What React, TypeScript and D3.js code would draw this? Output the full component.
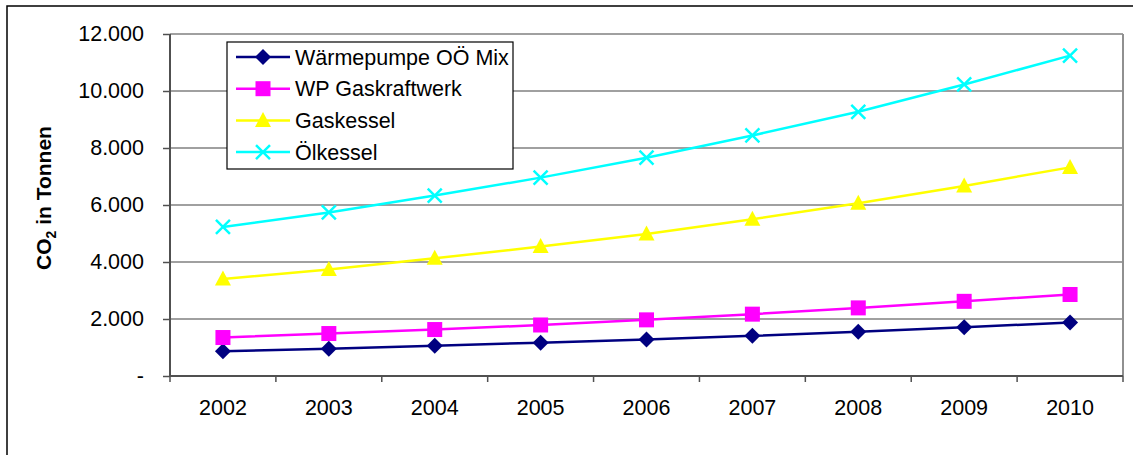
import React, { useRef, useEffect } from 'react';
import * as d3 from 'd3';

// years on the category axis
const years = ['2002', '2003', '2004', '2005', '2006', '2007', '2008', '2009', '2010'];

// CO2 in tonnes
const waermepumpeMix = [870, 960, 1060, 1170, 1280, 1410, 1550, 1710, 1880];
const wpGaskraftwerk = [1350, 1490, 1630, 1790, 1970, 2170, 2390, 2620, 2860];
const gaskessel = [3400, 3740, 4130, 4540, 4980, 5500, 6060, 6670, 7320];
const oelkessel = [5230, 5740, 6330, 6960, 7660, 8440, 9270, 10230, 11240];

const seriesNames = ['Wärmepumpe OÖ Mix', 'WP Gaskraftwerk', 'Gaskessel', 'Ölkessel'];
const yTicks = [0, 2000, 4000, 6000, 8000, 10000, 12000];

const W = 1133;
const H = 455;
const FONT = '"Liberation Sans", Arial, sans-serif';

const App = () => {
  const ref = useRef<SVGSVGElement>(null);

  useEffect(() => {
    const svg = d3.select(ref.current);
    svg.selectAll('*').remove();

    const left = 170, right = 1123, top = 34, bottom = 376;

    const series = [
      { name: seriesNames[0], values: waermepumpeMix, color: '#000080', marker: 'diamond' },
      { name: seriesNames[1], values: wpGaskraftwerk, color: '#FF00FF', marker: 'square' },
      { name: seriesNames[2], values: gaskessel, color: '#FFFF00', marker: 'triangle' },
      { name: seriesNames[3], values: oelkessel, color: '#00FFFF', marker: 'cross' },
    ];

    const x = d3.scaleBand().domain(years).range([left, right]);
    const y = d3.scaleLinear().domain([0, 12000]).range([bottom, top]);

    const de = d3.formatLocale({ decimal: ',', thousands: '.', grouping: [3], currency: ['', ' €'] });
    const fmt = (v: number) => (v === 0 ? '-' : de.format(',.0f')(v));

    // outer chart frame
    svg.append('rect')
      .attr('x', 7).attr('y', 6)
      .attr('width', W + 20).attr('height', H + 20)
      .attr('fill', '#fff').attr('stroke', '#000').attr('stroke-width', 1.5);

    // gridlines
    svg.append('g')
      .selectAll('line')
      .data(yTicks.filter(d => d > 0))
      .enter().append('line')
      .attr('x1', left).attr('x2', right)
      .attr('y1', d => y(d)).attr('y2', d => y(d))
      .attr('stroke', '#808080').attr('stroke-width', 1.5);

    // right border of plot area
    svg.append('line')
      .attr('x1', right).attr('x2', right).attr('y1', top).attr('y2', bottom)
      .attr('stroke', '#909090').attr('stroke-width', 2);

    // y axis
    const yAxis = svg.append('g')
      .attr('transform', `translate(${left},0)`)
      .call(d3.axisLeft(y).tickValues(yTicks).tickSize(7).tickPadding(19).tickFormat(d => fmt(+d)));
    yAxis.select('.domain').remove();
    yAxis.selectAll('line').attr('stroke', '#505050').attr('stroke-width', 1.5);
    yAxis.selectAll('text')
      .attr('font-family', FONT).attr('font-size', 21.5).attr('fill', '#000');

    // x axis labels (centered in categories)
    const xAxis = svg.append('g')
      .attr('transform', `translate(0,${bottom})`)
      .call(d3.axisBottom(x).tickSize(0).tickPadding(24));
    xAxis.select('.domain').remove();
    xAxis.selectAll('text')
      .attr('font-family', FONT).attr('font-size', 21.5).attr('fill', '#000');

    // x tick marks between categories
    const edges = years.map(d => x(d) as number).concat([right]);
    svg.append('g')
      .selectAll('line')
      .data(edges)
      .enter().append('line')
      .attr('x1', d => d).attr('x2', d => d)
      .attr('y1', bottom).attr('y2', bottom + 6)
      .attr('stroke', '#505050').attr('stroke-width', 1.5);

    // axis lines
    svg.append('line')
      .attr('x1', left).attr('x2', left).attr('y1', top).attr('y2', bottom)
      .attr('stroke', '#505050').attr('stroke-width', 2);
    svg.append('line')
      .attr('x1', left - 1).attr('x2', right).attr('y1', bottom).attr('y2', bottom)
      .attr('stroke', '#505050').attr('stroke-width', 2);

    // axis title
    const title = svg.append('text')
      .attr('transform', 'translate(51,198) rotate(-90)')
      .attr('text-anchor', 'middle')
      .attr('font-family', FONT).attr('font-size', 21).attr('font-weight', 'bold');
    title.append('tspan').text('CO');
    title.append('tspan').attr('font-size', 14).attr('dy', 5).text('2');
    title.append('tspan').attr('dy', -5).text(' in Tonnen');

    const drawMarker = (g: any, type: string, cx: number, cy: number, color: string) => {
      if (type === 'diamond') {
        g.append('path').attr('d', `M${cx},${cy - 8}L${cx + 8},${cy}L${cx},${cy + 8}L${cx - 8},${cy}Z`)
          .attr('fill', color);
      } else if (type === 'square') {
        g.append('rect').attr('x', cx - 7.5).attr('y', cy - 7.5).attr('width', 15).attr('height', 15)
          .attr('fill', color);
      } else if (type === 'triangle') {
        g.append('path').attr('d', `M${cx},${cy - 8.5}L${cx + 8},${cy + 6.5}L${cx - 8},${cy + 6.5}Z`)
          .attr('fill', color);
      } else {
        g.append('path').attr('d', `M${cx - 7},${cy - 7}L${cx + 7},${cy + 7}M${cx - 7},${cy + 7}L${cx + 7},${cy - 7}`)
          .attr('stroke', color).attr('stroke-width', 2.5).attr('fill', 'none');
      }
    };

    const cx = (d: string) => (x(d) as number) + x.bandwidth() / 2;
    const line = d3.line<number>().x((_, i) => cx(years[i])).y(d => y(d));

    series.forEach(s => {
      const g = svg.append('g');
      g.append('path')
        .attr('d', line(s.values))
        .attr('fill', 'none').attr('stroke', s.color).attr('stroke-width', 2.5);
      s.values.forEach((v, i) => drawMarker(g, s.marker, cx(years[i]), y(v), s.color));
    });

    // legend
    const lg = svg.append('g');
    lg.append('rect')
      .attr('x', 227).attr('y', 42).attr('width', 286).attr('height', 127)
      .attr('fill', '#fff').attr('stroke', '#000').attr('stroke-width', 1.2);
    series.forEach((s, i) => {
      const ly = 57 + i * 31.7;
      lg.append('line').attr('x1', 236).attr('x2', 290).attr('y1', ly).attr('y2', ly)
        .attr('stroke', s.color).attr('stroke-width', 2.5);
      drawMarker(lg, s.marker, 263, ly, s.color);
      lg.append('text')
        .attr('x', 295).attr('y', ly).attr('dy', '0.36em')
        .attr('font-family', FONT).attr('font-size', 21.5).attr('fill', '#000')
        .text(s.name);
    });
  }, []);

  return (
    <svg ref={ref} width={W} height={H}
      style={{ position: 'absolute', left: 0, top: 0, background: '#fff' }} />
  );
};

export default App;
